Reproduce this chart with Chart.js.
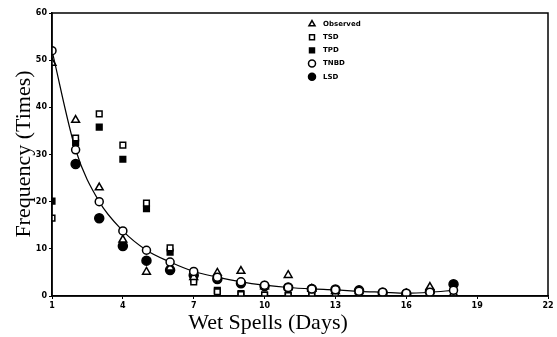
<!DOCTYPE html>
<html>
<head>
<meta charset="utf-8">
<script src="https://cdn.jsdelivr.net/npm/chart.js@4/dist/chart.umd.min.js"></script>
<style>
html,body{margin:0;padding:0;background:#fff;}
canvas{display:block;}
</style>
</head>
<body>
<canvas id="c" width="557" height="337"></canvas>
<script>
// ---- data ----
const days     = [1, 2, 3, 4, 5, 6, 7, 8, 9, 10, 11, 12, 13, 14, 15, 16, 17, 18];
const observed = [49.4, 37.3, 23, 11.9, 5.1, 6, 4, 4.9, 5.3, 2, 4.4, 1.5, 1, 1, 0.5, 0.5, 1.9, 0.5];
const tsd      = [16.5, 33.5, 38.6, 32, 19.7, 10.2, 3, 0.9, 0.3, 0.2, 0.1, 0.1, 0.1, 0, 0, 0, 0, 0];
const tpd      = [20.1, 32.5, 35.8, 29, 18.5, 9.3, 3.6, 1.2, 0.5, 0.2, 0.1, 0.1, 0.1, 0.1, 0, 0, 0, 0];
const tnbd     = [52, 31, 20, 13.8, 9.7, 7.2, 5.2, 4.0, 3.0, 2.3, 1.8, 1.5, 1.3, 1.0, 0.8, 0.6, 0.8, 1.2];
const lsd      = [null, 28, 16.5, 10.6, 7.5, 5.5, 4.4, 3.6, 2.7, 2.1, 1.8, 1.5, 1.4, 1.2, 0.7, 0.5, 0.9, 2.5];
const seriesNames = ['Observed', 'TSD', 'TPD', 'TNBD', 'LSD'];
const xTitle = 'Wet Spells (Days)';
const yTitle = 'Frequency (Times)';

function pts(arr){ return days.map((d,i)=>({x:d, y:arr[i]})).filter(p=>p.y!==null); }

const styles = [
  {pointStyle:'triangle', backgroundColor:'#fff', radius:4.5},
  {pointStyle:'rect', backgroundColor:'#fff', radius:4},
  {pointStyle:'rect', backgroundColor:'#000', radius:4},
  {pointStyle:'circle', backgroundColor:'#fff', radius:4},
  {pointStyle:'circle', backgroundColor:'#000', radius:4.5}
];
const arrays = [observed, tsd, tpd, tnbd, lsd];

const datasets = arrays.map((a,i)=>({
  label: seriesNames[i],
  data: pts(a),
  showLine: i===3,
  borderColor:'#000',
  borderWidth: i===3 ? 1.2 : 1.5,
  cubicInterpolationMode:'monotone',
  pointStyle: styles[i].pointStyle,
  pointRadius: styles[i].radius,
  pointBackgroundColor: styles[i].backgroundColor,
  pointBorderColor:'#000',
  pointBorderWidth:1.5,
  order: i===3 ? 0 : 1
}));

const deco = {
  id:'deco',
  afterDraw(chart){
    const ctx = chart.ctx, a = chart.chartArea;
    ctx.save();
    ctx.strokeStyle = '#000';
    ctx.lineWidth = 1.5;
    ctx.strokeRect(a.left, a.top, a.right-a.left, a.bottom-a.top);
    // legend
    const lx = 312, tx = 323, y0 = 24, dy = 13.2;
    ctx.textBaseline = 'middle';
    chart.data.datasets.forEach((ds,i)=>{
      const y = y0 + i*dy;
      ctx.fillStyle = ds.pointBackgroundColor;
      ctx.strokeStyle = '#000';
      ctx.lineWidth = 1.5;
      Chart.helpers.drawPoint(ctx, {pointStyle: ds.pointStyle, radius: 3.5, borderWidth:1.5, rotation:0}, lx, y);
      ctx.fillStyle = '#000';
      ctx.font = 'bold 7px "DejaVu Sans"';
      ctx.textAlign = 'left';
      ctx.fillText(ds.label, tx, y);
    });
    // axis titles
    ctx.fillStyle = '#000';
    ctx.font = '22px "Liberation Serif"';
    ctx.textAlign = 'center';
    ctx.textBaseline = 'middle';
    ctx.fillText(xTitle, 268, 323);
    ctx.translate(24, 154);
    ctx.rotate(-Math.PI/2);
    ctx.fillText(yTitle, 0, 0);
    ctx.restore();
  }
};

new Chart(document.getElementById('c'), {
  type:'scatter',
  data:{datasets},
  options:{
    responsive:false,
    animation:false,
    devicePixelRatio:1,
    layout:{padding:{top:13, right:9, left:0, bottom:0}},
    plugins:{legend:{display:false}, tooltip:{enabled:false}},
    scales:{
      x:{
        type:'linear', min:1, max:22,
        ticks:{stepSize:3, color:'#000', font:{family:'DejaVu Sans', size:8, weight:'bold'}, padding:2, maxRotation:0},
        grid:{display:true, drawOnChartArea:false, drawTicks:true, tickLength:3, color:'#000'},
        border:{color:'#000', width:1.5},
        afterFit(s){ s.height = 41; }
      },
      y:{
        min:0, max:60,
        ticks:{stepSize:10, color:'#000', font:{family:'DejaVu Sans', size:8, weight:'bold'}, padding:2},
        grid:{display:true, drawOnChartArea:false, drawTicks:true, tickLength:3, color:'#000'},
        border:{color:'#000', width:1.5},
        afterFit(s){ s.width = 52; }
      }
    }
  },
  plugins:[deco]
});
</script>
</body>
</html>
